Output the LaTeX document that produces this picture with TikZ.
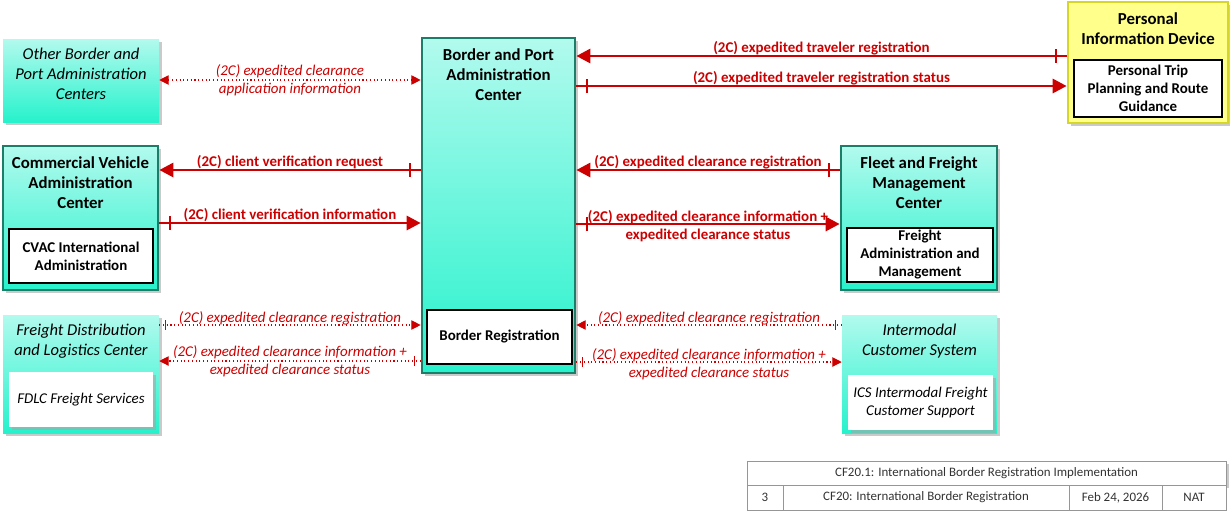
\documentclass[tikz,border=0pt]{standalone}
\usepackage{fontspec}
\setmainfont{Carlito}
\usetikzlibrary{positioning,arrows.meta,shadows,decorations.markings}

\definecolor{flowred}{RGB}{204,0,0}
\definecolor{tealedge}{RGB}{28,125,104}
\definecolor{tealtop}{RGB}{178,250,238}
\definecolor{tealbot}{RGB}{38,242,204}
\definecolor{pidfill}{RGB}{255,255,140}
\definecolor{pidedge}{RGB}{214,214,40}
\definecolor{tbgray}{RGB}{150,150,150}

\begin{document}
\begin{tikzpicture}[x=0.75pt,y=-0.75pt,
  shade/.style={drop shadow={shadow xshift=2pt,shadow yshift=-2pt,fill=black!35,opacity=.6}},
  ctrbox/.style={rectangle,draw=tealedge,line width=2pt,top color=tealtop,bottom color=tealbot,shade},
  extbox/.style={rectangle,draw=none,top color=tealtop,bottom color=tealbot,shade},
  pidbox/.style={rectangle,draw=pidedge,line width=2pt,fill=pidfill,shade},
  subbox/.style={rectangle,draw=black,line width=2pt,fill=white,align=center,inner sep=1pt,
    font=\bfseries\fontsize{11.2}{13.5}\selectfont},
  extsub/.style={rectangle,draw=none,fill=white,align=center,shade,
    font=\itshape\fontsize{11.2}{13.5}\selectfont},
  ttl/.style={align=center,anchor=north,inner sep=1.5pt,font=\bfseries\fontsize{12.6}{15}\selectfont},
  extttl/.style={ttl,font=\itshape\fontsize{12.4}{15}\selectfont},
  tickwd/.initial=1.8pt,
  tickht/.initial=5pt,
  tick/.style={decoration={markings,mark=at position #1 with {\draw[-,solid,flowred,line width=\pgfkeysvalueof{/tikz/tickwd}] (0,-\pgfkeysvalueof{/tikz/tickht}) -- (0,\pgfkeysvalueof{/tikz/tickht});}},
    postaction={decorate}},
  solidline/.style={draw=flowred,line width=2.2pt,-{Triangle[length=10.5pt,width=10.5pt]}},
  dotline/.style={draw=flowred,line width=0.8pt,dotted,-{Triangle[length=7pt,width=7pt]}},
  flowsolid/.style={solidline,tick=8pt},
  flowdot/.style={dotline,tickwd=0.7pt,tickht=3.5pt,tick=4.5pt},
  lblabove/.style={midway,above,inner sep=0pt,yshift=-0.5pt,text=flowred,font=\bfseries\fontsize{11.2}{13.5}\selectfont},
  lblmid/.style={midway,align=center,inner sep=0pt,yshift=-1.5pt,text=flowred,font=\bfseries\fontsize{11.2}{13.5}\selectfont},
  dotabove/.style={lblabove,font=\itshape\fontsize{11.2}{13.5}\selectfont},
  dotmid/.style={lblmid,yshift=1.5pt,font=\itshape\fontsize{11.2}{13.5}\selectfont},
  tbcell/.style={rectangle,draw=tbgray,line width=0.6pt,fill=white,inner sep=0pt,
    text=black!80,font=\fontsize{9.7}{11}\selectfont}
]

  \useasboundingbox (0,0) rectangle (1230,512);

  % -------- Centers on the west side --------
  \node[extbox,minimum width=117pt,minimum height=62.25pt] (obpac) at (81,80.5) {};
  \node[extttl,below=5.5pt of obpac.north] (obpacttl) {Other Border and\\Port Administration\\Centers};

  \node[ctrbox,minimum width=116.25pt,minimum height=108pt] (cvac) at (80.5,218) {};
  \node[ttl,below=7pt of cvac.north] (cvacttl) {Commercial Vehicle\\Administration\\Center};
  \node[subbox,minimum width=108pt,minimum height=40.5pt] (cvacsub) at (81,256) {CVAC International\\Administration};

  \node[extbox,minimum width=117pt,minimum height=88.5pt] (fdlc) at (81,374) {};
  \node[extttl,below=5.5pt of fdlc.north] (fdlcttl) {Freight Distribution\\and Logistics Center};
  \node[extsub,minimum width=108pt,minimum height=41.25pt] (fdlcsub) at (81,399.5) {FDLC Freight Services};

  % -------- Border and Port Administration Center --------
  \node[ctrbox,minimum width=114.75pt,minimum height=251.25pt] (bpac) at (498.5,205.5) {};
  \node[ttl,below=7pt of bpac.north] (bpacttl) {Border and Port\\Administration\\Center};
  \node[subbox,minimum width=108.75pt,minimum height=40.5pt] (bpacsub) at (499.5,337) {Border Registration};

  % -------- Centers on the east side --------
  \node[pidbox,minimum width=120pt,minimum height=90.75pt] (pid) at (1148,62.5) {};
  \node[ttl,below=7.5pt of pid.north] (pidttl) {Personal\\Information Device};
  \node[subbox,minimum width=111pt,minimum height=42.75pt] (pidsub) at (1148,88.5) {Personal Trip\\Planning and Route\\Guidance};

  \node[ctrbox,minimum width=117pt,minimum height=108pt] (ffmc) at (919,218) {};
  \node[ttl,below=7pt of ffmc.north] (ffmcttl) {Fleet and Freight\\Management\\Center};
  \node[subbox,minimum width=109.5pt,minimum height=40.5pt] (ffmcsub) at (920,255) {Freight\\Administration and\\Management};

  \node[extbox,minimum width=116.25pt,minimum height=88.5pt] (ics) at (919.5,374) {};
  \node[extttl,below=5.5pt of ics.north] (icsttl) {Intermodal\\Customer System};
  \node[extsub,minimum width=108.75pt,minimum height=41.25pt] (icssub) at (920.5,402.5) {ICS Intermodal Freight\\Customer Support};

  % ---------- Flows, west side ----------
  \draw[dotline,{Triangle[length=7pt,width=7pt]}-{Triangle[length=7pt,width=7pt]}]
    (obpac.east |- 0,80) -- node[dotmid] {(2C) expedited clearance\\application information} (bpac.west |- 0,80);
  \draw[flowsolid] (bpac.west |- 0,170) -- node[lblabove] {(2C) client verification request} (cvac.east |- 0,170);
  \draw[flowsolid] (cvac.east |- 0,223) -- node[lblabove] {(2C) client verification information} (bpac.west |- 0,223);
  \draw[flowdot] (fdlc.east |- 0,325) -- node[dotabove] {(2C) expedited clearance registration} (bpac.west |- 0,325);
  \draw[flowdot] (bpac.west |- 0,361) -- node[dotmid] {(2C) expedited clearance information +\\expedited clearance status} (fdlc.east |- 0,361);

  % ---------- Flows, east side ----------
  \draw[flowsolid] (pid.west |- 0,56) -- node[lblabove] {(2C) expedited traveler registration} (bpac.east |- 0,56);
  \draw[flowsolid] (bpac.east |- 0,86) -- node[lblabove] {(2C) expedited traveler registration status} (pid.west |- 0,86);
  \draw[flowsolid] (ffmc.west |- 0,170) -- node[lblabove] {(2C) expedited clearance registration} (bpac.east |- 0,170);
  \draw[flowsolid] (bpac.east |- 0,224) -- node[lblmid] {(2C) expedited clearance information +\\expedited clearance status} (ffmc.west |- 0,224);
  \draw[flowdot] (ics.west |- 0,325) -- node[dotabove] {(2C) expedited clearance registration} (bpac.east |- 0,325);
  \draw[flowdot] (bpac.east |- 0,362) -- node[dotmid,yshift=-1.5pt] {(2C) expedited clearance information +\\expedited clearance status} (ics.west |- 0,362);

  % ---------- Title block ----------
  \node[tbcell,minimum width=359.25pt,minimum height=18pt,shade] (tbtitle) at (986.5,473)
    {CF20.1: International Border Registration Implementation};
  \foreach \xa/\xb/\txt/\nm in {747/783/3/tbnum,783/1069/CF20: International Border Registration/tbname,
      1069/1162/{Feb 24, 2026}/tbdate,1162/1226/NAT/tbscope} {
    \node[tbcell,minimum width={(\xb-\xa)*0.75pt},minimum height=18.75pt] (\nm) at ({(\xa+\xb)/2},497.5) {\txt};
  }

\end{tikzpicture}
\end{document}
